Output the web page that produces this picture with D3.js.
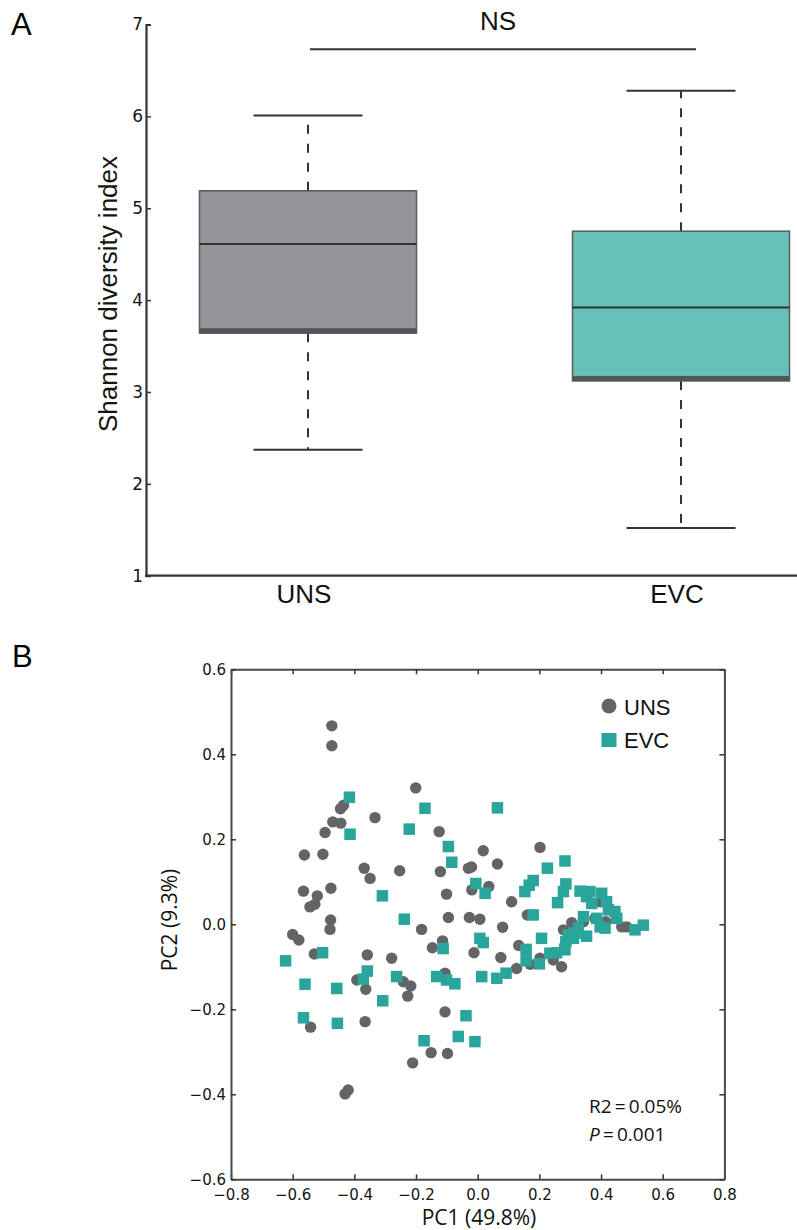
<!DOCTYPE html>
<html>
<head>
<meta charset="utf-8">
<script src="https://cdn.jsdelivr.net/npm/d3@7"></script>
<style>
  body { margin: 0; background: #fff; }
  svg { display: block; }
</style>
</head>
<body>
<script>
// ---- data ----
var groups = ["UNS", "EVC"]
var whiskerLow = [2.37, 1.52]
var q1 = [3.64, 3.12]
var median = [4.61, 3.92]
var q3 = [5.19, 4.75]
var whiskerHigh = [6.01, 6.28]
var shannonTicks = [1, 2, 3, 4, 5, 6, 7]

var pcTicksX = [-0.8, -0.6, -0.4, -0.2, 0.0, 0.2, 0.4, 0.6, 0.8]
var pcTicksY = [-0.6, -0.4, -0.2, 0.0, 0.2, 0.4, 0.6]

// UNS samples [PC1, PC2]
var unsPoints = [
  [-0.473, 0.467], [-0.473, 0.420], [-0.201, 0.321], [-0.445, 0.272], [-0.435, 0.280],
  [-0.470, 0.241], [-0.444, 0.238], [-0.333, 0.251], [-0.495, 0.216], [-0.125, 0.218],
  [-0.562, 0.163], [-0.502, 0.165], [-0.368, 0.132], [-0.349, 0.108], [-0.253, 0.126],
  [-0.121, 0.124], [-0.030, 0.132], [-0.020, 0.135], [-0.565, 0.078], [-0.476, 0.085],
  [-0.520, 0.067], [-0.544, 0.041], [-0.528, 0.047], [-0.101, 0.071], [-0.019, 0.081],
  [-0.477, 0.010], [-0.479, -0.012], [-0.095, 0.016], [-0.027, 0.016], [0.007, 0.012],
  [-0.182, -0.012], [-0.600, -0.024], [-0.580, -0.037], [-0.114, -0.039], [0.018, 0.173],
  [0.064, 0.142], [0.036, 0.089], [0.110, 0.053], [0.081, -0.007], [0.202, 0.181],
  [0.161, 0.022], [0.278, -0.013], [0.305, 0.004], [0.343, 0.006], [0.380, 0.014],
  [0.415, 0.006], [0.467, -0.006], [0.483, -0.006], [0.397, 0.053], [0.283, -0.049],
  [0.133, -0.050], [0.202, -0.080], [0.170, -0.094], [0.245, -0.084], [0.272, -0.100],
  [-0.147, -0.055], [-0.012, -0.067], [0.075, -0.078], [0.126, -0.104], [-0.279, -0.080],
  [-0.106, -0.115], [-0.241, -0.135], [-0.217, -0.145], [-0.530, -0.070], [-0.358, -0.072],
  [-0.392, -0.131], [-0.363, -0.153], [-0.227, -0.169], [-0.106, -0.206], [-0.365, -0.229],
  [-0.542, -0.242], [-0.151, -0.302], [-0.098, -0.304], [-0.211, -0.326], [-0.430, -0.399],
  [-0.420, -0.390]
]

// EVC samples [PC1, PC2]
var evcPoints = [
  [-0.416, 0.299], [-0.414, 0.212], [-0.171, 0.273], [-0.222, 0.224], [-0.095, 0.183],
  [-0.084, 0.146], [-0.309, 0.067], [-0.238, 0.012], [0.064, 0.274], [-0.006, 0.096],
  [0.024, 0.073], [0.007, -0.033], [0.018, -0.043], [-0.112, -0.057], [-0.263, -0.123],
  [-0.133, -0.123], [-0.101, -0.131], [-0.074, -0.140], [0.013, -0.123], [0.062, -0.127],
  [0.092, -0.115], [-0.623, -0.086], [-0.503, -0.067], [-0.560, -0.141], [-0.457, -0.151],
  [-0.358, -0.110], [-0.371, -0.129], [-0.308, -0.180], [-0.565, -0.220], [-0.455, -0.233],
  [-0.038, -0.215], [-0.174, -0.274], [-0.063, -0.264], [-0.009, -0.276],
  [0.226, 0.132], [0.283, 0.149], [0.180, 0.103], [0.167, 0.092], [0.153, 0.077],
  [0.286, 0.095], [0.278, 0.077], [0.259, 0.051], [0.332, 0.078], [0.364, 0.077],
  [0.402, 0.073], [0.353, 0.065], [0.370, 0.049], [0.418, 0.053], [0.424, 0.034],
  [0.445, 0.030], [0.451, 0.014], [0.180, 0.022], [0.343, 0.018], [0.386, 0.014],
  [0.397, -0.006], [0.413, -0.009], [0.326, -0.009], [0.316, -0.021], [0.353, -0.028],
  [0.294, -0.025], [0.310, -0.033], [0.286, -0.041], [0.283, -0.060], [0.537, -0.002],
  [0.510, -0.013], [0.207, -0.033], [0.157, -0.059], [0.157, -0.086], [0.234, -0.068],
  [0.256, -0.067], [0.200, -0.093]
]

var grayDot = "#636466"
var tealDot = "#2aa59b"
var boxFill = ["#939598", "#66c1b8"]
var ink = "#151515"

var svg = d3.select("body").append("svg")
    .attr("width", 797)
    .attr("height", 1230)

// ================= panel A =================
var yA = d3.scaleLinear().domain([1, 7]).range([575.7, 24.5])
var xA = d3.scalePoint().domain(groups).range([308, 681])
var boxW = 217, capW = 109

svg.append("text")
    .attr("x", 11).attr("y", 35)
    .style("font", "31px 'Liberation Sans', Arial, sans-serif")
    .text("A")

var axA = svg.append("g")
    .attr("transform", "translate(146,0)")
    .call(d3.axisLeft(yA).tickValues(shannonTicks).tickFormat(d3.format("d")).tickSize(-5).tickPadding(3))
axA.select(".domain").attr("stroke", "#333").attr("stroke-width", 2.2)
axA.selectAll(".tick line").attr("stroke", "#333").attr("stroke-width", 1.5)
axA.selectAll(".tick text")
    .attr("fill", ink)
    .style("font", "17px 'DejaVu Sans', sans-serif")

svg.append("line")
    .attr("x1", 145).attr("x2", 797)
    .attr("y1", yA(1)).attr("y2", yA(1))
    .attr("stroke", "#333").attr("stroke-width", 2.2)

svg.append("text")
    .attr("transform", "translate(117," + 294 + ") rotate(-90)")
    .attr("text-anchor", "middle")
    .attr("fill", ink)
    .style("font", "26px 'Liberation Sans', Arial, sans-serif")
    .text("Shannon diversity index")

var box = svg.selectAll(".box")
    .data(groups)
  .enter().append("g")
    .attr("class", "box")

// whiskers (dashed, drawn from the box edge out to the cap)
box.append("line")
    .attr("x1", function(d) { return xA(d) }).attr("x2", function(d) { return xA(d) })
    .attr("y1", function(d, i) { return yA(q3[i]) })
    .attr("y2", function(d, i) { return yA(whiskerHigh[i]) })
    .attr("stroke", "#333").attr("stroke-width", 2).attr("stroke-dasharray", "9,10")
box.append("line")
    .attr("x1", function(d) { return xA(d) }).attr("x2", function(d) { return xA(d) })
    .attr("y1", function(d, i) { return yA(q1[i]) })
    .attr("y2", function(d, i) { return yA(whiskerLow[i]) })
    .attr("stroke", "#333").attr("stroke-width", 2).attr("stroke-dasharray", "9,10")

// caps
box.append("line")
    .attr("x1", function(d) { return xA(d) - capW / 2 }).attr("x2", function(d) { return xA(d) + capW / 2 })
    .attr("y1", function(d, i) { return yA(whiskerHigh[i]) })
    .attr("y2", function(d, i) { return yA(whiskerHigh[i]) })
    .attr("stroke", "#333").attr("stroke-width", 2)
box.append("line")
    .attr("x1", function(d) { return xA(d) - capW / 2 }).attr("x2", function(d) { return xA(d) + capW / 2 })
    .attr("y1", function(d, i) { return yA(whiskerLow[i]) })
    .attr("y2", function(d, i) { return yA(whiskerLow[i]) })
    .attr("stroke", "#333").attr("stroke-width", 2)

box.append("rect")
    .attr("x", function(d) { return xA(d) - boxW / 2 })
    .attr("width", boxW)
    .attr("y", function(d, i) { return yA(q3[i]) })
    .attr("height", function(d, i) { return yA(q1[i]) - yA(q3[i]) })
    .attr("fill", function(d, i) { return boxFill[i] })
    .attr("stroke", "#5a5a5a").attr("stroke-width", 1.5)

// darker band along the lower quartile edge
box.append("rect")
    .attr("x", function(d) { return xA(d) - boxW / 2 })
    .attr("width", boxW)
    .attr("y", function(d, i) { return yA(q1[i]) - 5 })
    .attr("height", 5)
    .attr("fill", "#555")

box.append("line")
    .attr("x1", function(d) { return xA(d) - boxW / 2 }).attr("x2", function(d) { return xA(d) + boxW / 2 })
    .attr("y1", function(d, i) { return yA(median[i]) })
    .attr("y2", function(d, i) { return yA(median[i]) })
    .attr("stroke", "#333").attr("stroke-width", 2)

box.append("text")
    .attr("x", function(d) { return xA(d) - 4 })
    .attr("y", 603)
    .attr("text-anchor", "middle")
    .attr("fill", "#111")
    .style("font", "26px 'Liberation Sans', Arial, sans-serif")
    .text(function(d) { return d })

// significance bracket
svg.append("line")
    .attr("x1", 310).attr("x2", 696)
    .attr("y1", yA(6.73)).attr("y2", yA(6.73))
    .attr("stroke", "#333").attr("stroke-width", 2)
svg.append("text")
    .attr("x", 498).attr("y", 30)
    .attr("text-anchor", "middle")
    .attr("fill", "#111")
    .style("font", "26px 'Liberation Sans', Arial, sans-serif")
    .text("NS")

// ================= panel B =================
var xB = d3.scaleLinear().domain([-0.8, 0.8]).range([231, 724.4])
var yB = d3.scaleLinear().domain([-0.6, 0.6]).range([1179.3, 669.3])
var fmt = d3.format(".1f")

svg.append("text")
    .attr("x", 12).attr("y", 667)
    .style("font", "31px 'Liberation Sans', Arial, sans-serif")
    .text("B")

function styleAxis(g) {
  g.select(".domain").attr("stroke", "#4a4a4a").attr("stroke-width", 2)
  g.selectAll(".tick line").attr("stroke", "#333").attr("stroke-width", 1.5)
  g.selectAll(".tick text").attr("fill", ink).style("font", "15px 'DejaVu Sans', sans-serif")
}

svg.append("g")
    .attr("transform", "translate(0," + yB(-0.6) + ")")
    .call(d3.axisBottom(xB).tickValues(pcTicksX).tickFormat(fmt).tickSizeInner(-5).tickSizeOuter(0).tickPadding(10))
    .call(styleAxis)
svg.append("g")
    .attr("transform", "translate(0," + yB(0.6) + ")")
    .call(d3.axisBottom(xB).tickValues(pcTicksX).tickFormat("").tickSizeInner(5).tickSizeOuter(0))
    .call(styleAxis)
svg.append("g")
    .attr("transform", "translate(" + xB(-0.8) + ",0)")
    .call(d3.axisLeft(yB).tickValues(pcTicksY).tickFormat(fmt).tickSizeInner(-5).tickSizeOuter(0).tickPadding(5))
    .call(styleAxis)
svg.append("g")
    .attr("transform", "translate(" + xB(0.8) + ",0)")
    .call(d3.axisLeft(yB).tickValues(pcTicksY).tickFormat("").tickSizeInner(5).tickSizeOuter(0))
    .call(styleAxis)

svg.append("text")
    .attr("x", 479).attr("y", 1225)
    .attr("text-anchor", "middle")
    .attr("fill", "#111")
    .style("font", "21px 'Open Sans', sans-serif")
    .text("PC1 (49.8%)")
svg.append("text")
    .attr("transform", "translate(177,920) rotate(-90)")
    .attr("text-anchor", "middle")
    .attr("fill", "#111")
    .style("font", "21px 'Open Sans', sans-serif")
    .text("PC2 (9.3%)")

svg.append("g").selectAll("circle")
    .data(unsPoints)
  .enter().append("circle")
    .attr("cx", function(d) { return xB(d[0]) })
    .attr("cy", function(d) { return yB(d[1]) })
    .attr("r", 5.7)
    .attr("fill", grayDot)

var sq = 11.5
svg.append("g").selectAll("rect")
    .data(evcPoints)
  .enter().append("rect")
    .attr("x", function(d) { return xB(d[0]) - sq / 2 })
    .attr("y", function(d) { return yB(d[1]) - sq / 2 })
    .attr("width", sq).attr("height", sq)
    .attr("fill", tealDot)

// legend
svg.append("circle").attr("cx", 609).attr("cy", 706).attr("r", 7.5).attr("fill", grayDot)
svg.append("rect").attr("x", 601.5).attr("y", 733).attr("width", 15).attr("height", 14).attr("fill", tealDot)
svg.append("text").attr("x", 624).attr("y", 715)
    .attr("fill", "#111")
    .style("font", "22px 'Liberation Sans', Arial, sans-serif")
    .text("UNS")
svg.append("text").attr("x", 624).attr("y", 748)
    .attr("fill", "#111")
    .style("font", "22px 'Liberation Sans', Arial, sans-serif")
    .text("EVC")

// stats
svg.append("text").attr("x", 589).attr("y", 1113)
    .attr("fill", "#111")
    .style("font", "19px 'Open Sans', sans-serif")
    .text("R2\u2009=\u20090.05%")
var pLine = svg.append("text").attr("x", 589).attr("y", 1141)
    .attr("fill", "#111")
    .style("font", "19px 'Open Sans', sans-serif")
pLine.append("tspan").style("font-style", "italic").text("P")
pLine.append("tspan").text("\u2009=\u20090.001")
</script>
</body>
</html>
